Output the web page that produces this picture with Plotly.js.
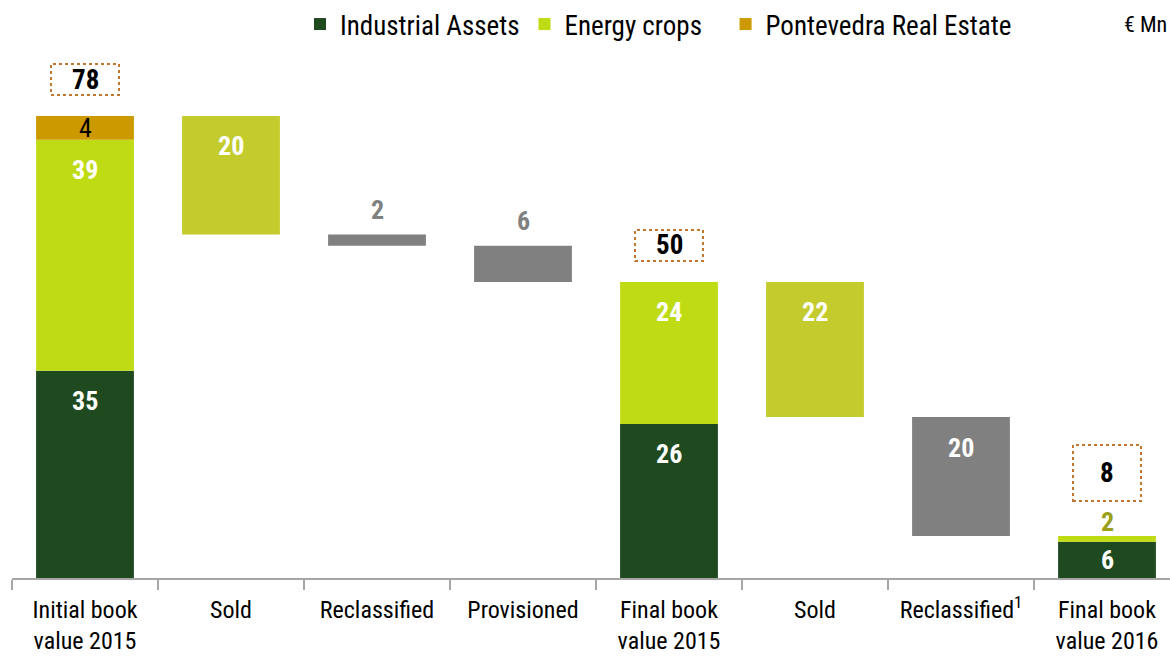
<!DOCTYPE html>
<html>
<head>
<meta charset="utf-8">
<script src="https://cdn.plot.ly/plotly-3.0.1.min.js"></script>
<style>
html,body{margin:0;padding:0;overflow:hidden;background:#fff;width:1170px;height:657px;}
#chart{width:1180px;height:657px;}
</style>
</head>
<body>
<div id="chart"></div>
<script>
// ---- data ----
const categories = ['Initial book<br>value 2015','Sold','Reclassified','Provisioned','Final book<br>value 2015','Sold','Reclassified<sup>1</sup>','Final book<br>value 2016'];
const seriesNames = ['Industrial Assets','Energy crops','Pontevedra Real Estate'];
const industrialAssets = [35, null, null, null, 26, null, null, 6.1];
const energyCrops      = [39, null, null, null, 24, null, null, 1.0];
const realEstate       = [4, null, null, null, null, null, null, null];
const soldValues       = [null, -20, null, null, null, -22.8, null, null];
const writeDownValues  = [null, null, -1.9, -6.1, null, null, -20.1, null];
const industrialLabels = ['35','','','','26','','','6'];
const energyLabels     = ['39','','','','24','','','2'];
const realEstateLabels = ['4','','','','','','',''];
const soldLabels       = ['','20','','','','22','',''];
const writeDownLabels  = ['','','2','6','','','20',''];
const totalLabels      = ['78','','','','50','','','8'];
const unitLabel = '€ Mn';

// ---- derived positions via running total ----
const idx = categories.map((c,i)=>i);
const n = categories.length;
const stackTop = [], moveBase = [], moveHeight = [];
let running = 0;
for (let i=0;i<n;i++){
  const isTotal = industrialAssets[i] !== null;
  if (isTotal){
    running = (industrialAssets[i]||0)+(energyCrops[i]||0)+(realEstate[i]||0);
    stackTop[i] = running;
    moveBase[i] = null; moveHeight[i] = null;
  } else {
    const v = (soldValues[i]!==null ? soldValues[i] : writeDownValues[i]);
    moveBase[i] = running + v;
    moveHeight[i] = -v;
    stackTop[i] = running;
    running = running + v;
  }
}

const C_IND = '#1F4A1F', C_EN = '#BFDB14', C_RE = '#CC9900', C_SOLD = '#C3CC2C', C_GRAY = '#808080';
const FONT = '"Roboto Condensed","Arial Narrow",Roboto,sans-serif';
const BW = 0.67;
const PAD = '\u00a0\u00a0\u00a0';

const traces = [
  {type:'bar', name:seriesNames[0], x:idx, y:industrialAssets, base:idx.map(()=>0),
   marker:{color:C_IND}, width:BW, hoverinfo:'skip'},
  {type:'bar', name:seriesNames[1]+PAD, x:idx, y:energyCrops, base:industrialAssets.map(v=>v||0),
   marker:{color:C_EN}, width:BW, hoverinfo:'skip'},
  {type:'bar', name:seriesNames[2], x:idx, y:realEstate,
   base:idx.map(i=>(industrialAssets[i]||0)+(energyCrops[i]||0)),
   marker:{color:C_RE}, width:BW, hoverinfo:'skip'},
  {type:'bar', name:'Sold', x:idx, y:idx.map(i=>soldValues[i]!==null?moveHeight[i]:null),
   base:moveBase, marker:{color:C_SOLD}, width:BW, showlegend:false, hoverinfo:'skip'},
  {type:'bar', name:'Write-downs', x:idx, y:idx.map(i=>writeDownValues[i]!==null?moveHeight[i]:null),
   base:moveBase, marker:{color:C_GRAY}, width:BW, showlegend:false, hoverinfo:'skip'}
];

const annotations = [];
const shapes = [];
const bold = s => '<b>'+s+'</b>';
const LBL = 26;
for (let i=0;i<n;i++){
  const ind = industrialAssets[i], en = energyCrops[i], re = realEstate[i];
  if (ind!==null && industrialLabels[i]){
    const small = ind < 8;
    annotations.push({x:i, y:small? ind/2 : ind, yshift: small?0:-30, text:bold(industrialLabels[i]),
      showarrow:false, font:{family:FONT,size:LBL,color:'#fff'}, yanchor:'middle'});
  }
  if (en!==null && energyLabels[i]){
    const top = (ind||0)+en;
    const small = en < 8;
    annotations.push({x:i, y:top, yshift: small?14:-30, text:bold(energyLabels[i]),
      showarrow:false, font:{family:FONT,size:LBL,color: small?'#9AA01A':'#fff'}, yanchor:'middle'});
  }
  if (re!==null && realEstateLabels[i]){
    annotations.push({x:i, y:(ind||0)+(en||0)+re/2, text:realEstateLabels[i],
      showarrow:false, font:{family:FONT,size:LBL,color:'#000'}, yanchor:'middle'});
  }
  if (soldValues[i]!==null){
    annotations.push({x:i, y:moveBase[i]+moveHeight[i], yshift:-30, text:bold(soldLabels[i]),
      showarrow:false, font:{family:FONT,size:LBL,color:'#fff'}, yanchor:'middle'});
  }
  if (writeDownValues[i]!==null){
    const big = moveHeight[i] > 10;
    annotations.push({x:i, y:moveBase[i]+moveHeight[i], yshift: big?-31:25, text:bold(writeDownLabels[i]),
      showarrow:false, font:{family:FONT,size:LBL,color: big?'#fff':C_GRAY}, yanchor:'middle'});
  }
  if (totalLabels[i]){
    const t = stackTop[i];
    const tall = (energyCrops[i]||0) < 8;
    const gap = tall ? 35 : 21;
    const h = tall ? 56 : 31;
    shapes.push({type:'rect', xref:'x', yref:'y', xsizemode:'pixel', ysizemode:'pixel',
      xanchor:i, yanchor:t, x0:-34, x1:34, y0:gap, y1:gap+h,
      line:{color:'#C07830', width:2, dash:'dot'}, fillcolor:'rgba(0,0,0,0)'});
    annotations.push({x:i, y:t, yshift:gap+h/2, text:bold(totalLabels[i]), showarrow:false,
      font:{family:FONT,size:27,color:'#000'}, yanchor:'middle'});
  }
}
annotations.push({xref:'paper', yref:'paper', x:(1145-12)/1168, y:1+(45-24)/533, text:unitLabel,
  showarrow:false, font:{family:FONT,size:22,color:'#000'}, xanchor:'center', yanchor:'middle'});

const layout = {
  width:1180, height:657,
  margin:{l:12, r:0, t:45, b:79},
  paper_bgcolor:'#fff', plot_bgcolor:'#fff',
  barmode:'overlay',
  showlegend:true,
  legend:{orientation:'h', x:(300-12)/1168, y:1+(45-24)/533,
    xanchor:'left', yanchor:'middle', font:{family:FONT,size:27,color:'#000'},
    bgcolor:'rgba(0,0,0,0)', traceorder:'normal'},
  xaxis:{range:[-0.5, n-0.5], tickmode:'array', tickvals:idx, ticktext:categories,
    ticks:'', showgrid:false, zeroline:false, showline:true, linecolor:'#A6A6A6', linewidth:2,
    tickfont:{family:FONT,size:24,color:'#000'}, ticklabelstandoff:9,
    minor:{tickmode:'linear', tick0:-0.5, dtick:1, ticks:'outside', ticklen:10, tickwidth:2, tickcolor:'#A6A6A6', showgrid:false},
    fixedrange:true},
  yaxis:{range:[0,90], visible:false, fixedrange:true},
  annotations:annotations,
  shapes:shapes
};

Plotly.newPlot('chart', traces, layout, {displayModeBar:false, staticPlot:true});
</script>
</body>
</html>
